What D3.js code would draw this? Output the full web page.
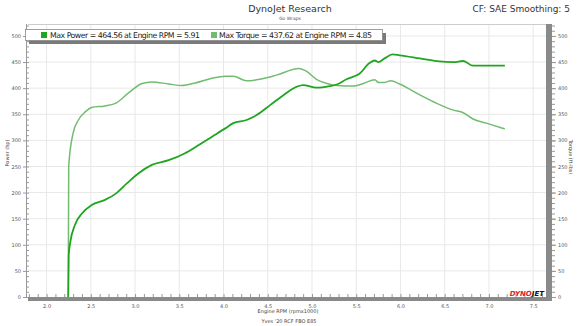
<!DOCTYPE html>
<html>
<head>
<meta charset="utf-8">
<script src="https://cdn.jsdelivr.net/npm/d3@7"></script>
<style>
  body { margin: 0; background: #fff; }
  text { font-family: "DejaVu Sans", sans-serif; }
</style>
</head>
<body>
<div id="chart"></div>
<script>
// engine rpm (x1000) and readings
const powerRpm = [2.245, 2.25, 2.266, 2.32, 2.40, 2.51, 2.66, 2.79, 2.91, 3.04, 3.19, 3.38, 3.56, 3.72, 3.87, 4.02, 4.11, 4.26, 4.38, 4.53, 4.68, 4.83, 4.90, 5.05, 5.20, 5.28, 5.39, 5.54, 5.65, 5.71, 5.75, 5.82, 5.91, 5.99, 6.22, 6.41, 6.60, 6.71, 6.82, 6.97, 7.18];
const powerHp = [0, 80, 103, 138, 160, 176, 186, 199, 218, 237, 253, 262, 275, 291, 307, 323, 333, 339, 349, 368, 387, 403, 406, 401, 404, 407, 417, 428, 448, 453, 450, 457, 464.56, 463, 457, 452, 450, 452, 443, 443, 443];

const torqueRpm = [2.245, 2.25, 2.30, 2.36, 2.44, 2.51, 2.66, 2.79, 2.92, 3.08, 3.19, 3.38, 3.53, 3.68, 3.87, 4.02, 4.11, 4.26, 4.41, 4.60, 4.85, 4.94, 5.05, 5.17, 5.28, 5.47, 5.58, 5.71, 5.75, 5.82, 5.89, 5.99, 6.22, 6.41, 6.60, 6.71, 6.82, 6.97, 7.18];
const torqueLbft = [0, 250, 314, 339, 355, 363, 366, 372, 390, 409, 412, 408, 405, 410, 419, 423, 423, 414, 417, 425, 437.62, 432, 417, 409, 405, 404, 409, 416, 411, 411, 414, 408, 387, 371, 358, 353, 341, 333, 322];

const xTicks = [2.0, 2.5, 3.0, 3.5, 4.0, 4.5, 5.0, 5.5, 6.0, 6.5, 7.0, 7.5];
const yTicks = [0, 50, 100, 150, 200, 250, 300, 350, 400, 450, 500];

const W = 580, H = 326;
const svg = d3.select("#chart").append("svg").attr("width", W).attr("height", H);

const x = d3.scaleLinear().domain([1.79, 7.645]).range([28, 546]);
const y = d3.scaleLinear().domain([0, 521]).range([297, 25]);

// titles
svg.append("text").attr("x", 290).attr("y", 12).attr("text-anchor", "middle")
  .attr("font-size", 9.5).attr("fill", "#333").text("DynoJet Research");
svg.append("text").attr("x", 290).attr("y", 19.5).attr("text-anchor", "middle")
  .attr("font-size", 4.5).attr("fill", "#555").text("Go Wraps");
svg.append("text").attr("x", 570).attr("y", 12).attr("text-anchor", "end")
  .attr("font-size", 9).attr("fill", "#333").text("CF: SAE Smoothing: 5");

// grid
svg.append("g").selectAll("line").data(xTicks).join("line")
  .attr("x1", d => x(d)).attr("x2", d => x(d)).attr("y1", 25).attr("y2", 297)
  .attr("stroke", "#e8e8e8").attr("stroke-width", 1);
svg.append("g").selectAll("line").data(yTicks.slice(1)).join("line")
  .attr("x1", 28).attr("x2", 546).attr("y1", d => y(d)).attr("y2", d => y(d))
  .attr("stroke", "#e8e8e8").attr("stroke-width", 1);

// frame
svg.append("line").attr("x1", 28).attr("x2", 546).attr("y1", 24.5).attr("y2", 24.5)
  .attr("stroke", "#ccc");
svg.append("line").attr("x1", 26.5).attr("x2", 26.5).attr("y1", 24).attr("y2", 298)
  .attr("stroke", "#999");

// left axis
const yMinor = d3.range(0, 521, 10);
svg.append("g").attr("transform", "translate(26,0)")
  .call(d3.axisLeft(y).tickValues(yMinor).tickSize(-3).tickFormat(""))
  .call(g => g.select(".domain").remove())
  .call(g => g.selectAll("line").attr("stroke", "#999"));
svg.append("g").attr("transform", "translate(26,0)")
  .call(d3.axisLeft(y).tickValues(yTicks).tickSize(3).tickPadding(2))
  .call(g => g.select(".domain").remove())
  .call(g => g.selectAll("line").attr("stroke", "#999"))
  .call(g => g.selectAll("text").attr("font-size", 5).attr("fill", "#555")
    .attr("font-family", "DejaVu Sans"));

// right axis
svg.append("rect").attr("x", 546).attr("y", 24).attr("width", 6).attr("height", 277)
  .attr("fill", "#8a8a8a");
svg.append("g").attr("transform", "translate(552,0)")
  .call(d3.axisRight(y).tickValues(yMinor).tickSize(3).tickFormat(""))
  .call(g => g.select(".domain").remove())
  .call(g => g.selectAll("line").attr("stroke", "#999"));
svg.append("g").attr("transform", "translate(552,0)")
  .call(d3.axisRight(y).tickValues(yTicks).tickSize(4).tickPadding(2))
  .call(g => g.select(".domain").remove())
  .call(g => g.selectAll("line").attr("stroke", "#999"))
  .call(g => g.selectAll("text").attr("font-size", 5).attr("fill", "#555")
    .attr("font-family", "DejaVu Sans"));

// bottom axis
svg.append("rect").attr("x", 28).attr("y", 297).attr("width", 524).attr("height", 4)
  .attr("fill", "#8a8a8a");
svg.append("g").attr("transform", "translate(0,297)")
  .call(d3.axisTop(x).tickValues(d3.range(1.8, 7.65, 0.1)).tickSize(3).tickFormat(""))
  .call(g => g.select(".domain").remove())
  .call(g => g.selectAll("line").attr("stroke", "#999"));
svg.append("g").attr("transform", "translate(0,301)")
  .call(d3.axisBottom(x).tickValues(xTicks).tickSize(0).tickPadding(3).tickFormat(d3.format(".1f")))
  .call(g => g.select(".domain").remove())
  .call(g => g.selectAll("text").attr("font-size", 5).attr("fill", "#555")
    .attr("font-family", "DejaVu Sans"));

// axis titles
svg.append("text").attr("transform", "translate(9,153) rotate(-90)").attr("text-anchor", "middle")
  .attr("font-size", 5).attr("fill", "#444").text("Power (hp)");
svg.append("text").attr("transform", "translate(569,157) rotate(90)").attr("text-anchor", "middle")
  .attr("font-size", 5).attr("fill", "#444").text("Torque (ft-lbs)");
svg.append("text").attr("x", 288).attr("y", 313).attr("text-anchor", "middle")
  .attr("font-size", 5).attr("fill", "#444").text("Engine RPM (rpmx1000)");
svg.append("text").attr("x", 289).attr("y", 323).attr("text-anchor", "middle")
  .attr("font-size", 5).attr("fill", "#444").text("Yves '20 RCF FBO E85");

// curves
const line = d3.line().x(d => x(d[0])).y(d => y(d[1])).curve(d3.curveMonotoneX);
svg.append("path").datum(d3.zip(torqueRpm, torqueLbft)).attr("d", line)
  .attr("fill", "none").attr("stroke", "#72bc72").attr("stroke-width", 1.5);
svg.append("path").datum(d3.zip(powerRpm, powerHp)).attr("d", line)
  .attr("fill", "none").attr("stroke", "#1fa51f").attr("stroke-width", 1.8);

// legend
const lg = svg.append("g");
lg.append("rect").attr("x", 29).attr("y", 33).attr("width", 357).attr("height", 11).attr("fill", "#7a7a7a");
lg.append("rect").attr("x", 25.5).attr("y", 29.5).attr("width", 357).attr("height", 11)
  .attr("fill", "#fff").attr("stroke", "#888").attr("stroke-width", 0.8);
lg.append("rect").attr("x", 41).attr("y", 32).attr("width", 6).attr("height", 6).attr("fill", "#1fa51f");
lg.append("text").attr("x", 50).attr("y", 38.3).attr("font-size", 7.8).attr("fill", "#222")
  .attr("font-family", "Liberation Sans").attr("textLength", 150).attr("lengthAdjust", "spacing")
  .text(`Max Power = ${powerHp[d3.maxIndex(powerHp)]} at Engine RPM = ${powerRpm[d3.maxIndex(powerHp)]}`);
lg.append("rect").attr("x", 211).attr("y", 32).attr("width", 6).attr("height", 6).attr("fill", "#72bc72");
lg.append("text").attr("x", 219).attr("y", 38.3).attr("font-size", 7.8).attr("fill", "#222")
  .attr("font-family", "Liberation Sans").attr("textLength", 153).attr("lengthAdjust", "spacing")
  .text(`Max Torque = ${torqueLbft[d3.maxIndex(torqueLbft)]} at Engine RPM = ${torqueRpm[d3.maxIndex(torqueLbft)]}`);

// logo
const logo = svg.append("text").attr("x", 544).attr("y", 296).attr("text-anchor", "end")
  .attr("font-size", 7).attr("font-weight", "bold").attr("font-style", "italic");
logo.append("tspan").attr("fill", "#e0202a").text("DYNO");
logo.append("tspan").attr("fill", "#111").text("JET");
</script>
</body>
</html>
